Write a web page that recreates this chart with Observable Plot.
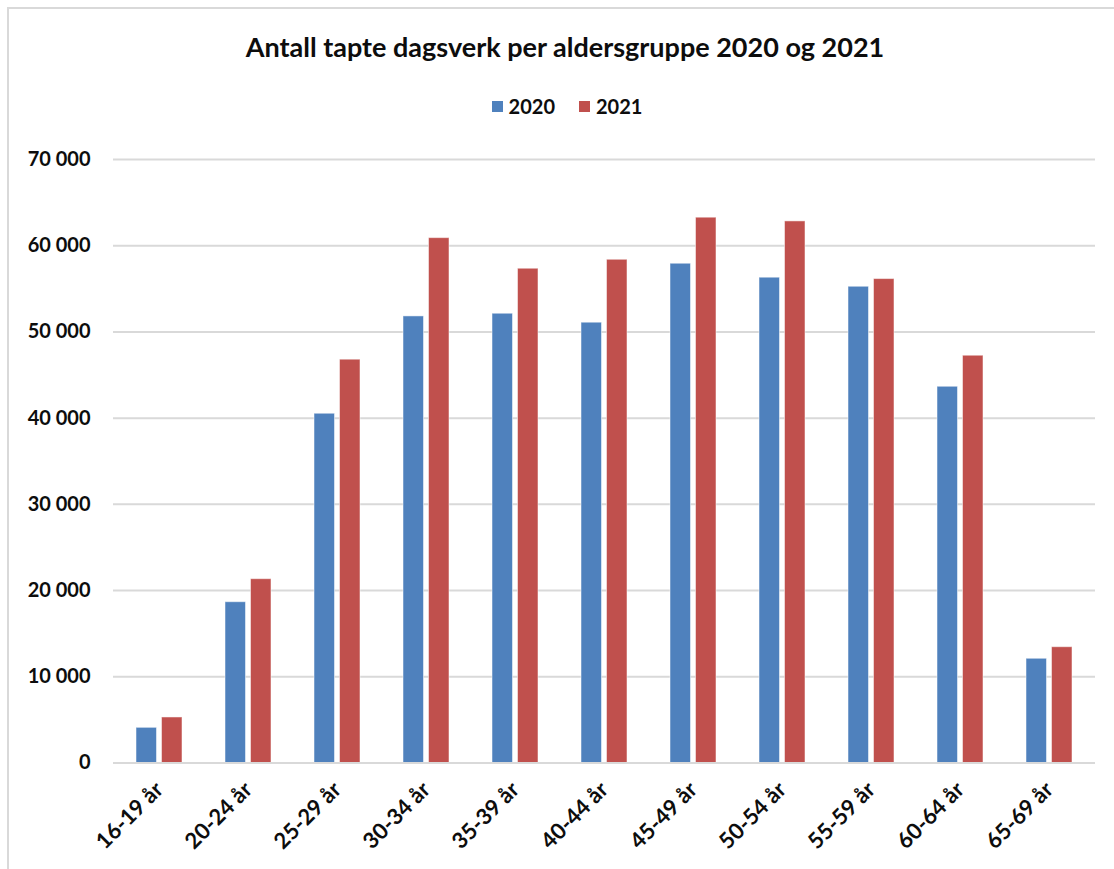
<!DOCTYPE html>
<html>
<head>
<meta charset="utf-8">
<script src="https://cdn.jsdelivr.net/npm/d3@7"></script>
<script src="https://cdn.jsdelivr.net/npm/@observablehq/plot@0.6"></script>
<style>
  html, body { margin: 0; padding: 0; background: #fff; }
  body { width: 1114px; height: 869px; overflow: hidden; position: relative; font-family: Lato, "Open Sans", sans-serif; }
  #border { position: absolute; left: 7px; top: 7px; width: 1200px; height: 1000px; border-left: 2px solid #d9d9d9; border-top: 2px solid #d9d9d9; }
  #title { position: absolute; left: 8px; width: 1114px; top: 30px; text-align: center; font-weight: bold; font-size: 27px; color: #0d0d0d; }
  #legend { position: absolute; left: 10px; width: 1114px; top: 94px; display: flex; justify-content: center; gap: 24px; font-weight: bold; font-size: 20px; color: #0d0d0d; }
  .item { display: flex; align-items: center; gap: 6px; }
  .sw { width: 11px; height: 11px; display: inline-block; }
  #chart { position: absolute; left: 0; top: 120px; }
</style>
</head>
<body>
<div id="border"></div>
<div id="title">Antall tapte dagsverk per aldersgruppe 2020 og 2021</div>
<div id="legend"></div>
<div id="chart"></div>
<script>
const ages = ["16-19 år", "20-24 år", "25-29 år", "30-34 år", "35-39 år", "40-44 år", "45-49 år", "50-54 år", "55-59 år", "60-64 år", "65-69 år"];
const years = ["2020", "2021"];
const values2020 = [4080, 18650, 40510, 51800, 52110, 51070, 57910, 56290, 55240, 43640, 12090];
const values2021 = [5280, 21320, 46780, 60880, 57330, 58370, 63250, 62820, 56130, 47240, 13430];
const colors = ["#4f81bd", "#c0504d"];
const yTicks = [0, 10000, 20000, 30000, 40000, 50000, 60000, 70000];

const legend = document.getElementById("legend");
years.forEach((y, i) => {
  const it = document.createElement("span");
  it.className = "item";
  it.innerHTML = `<span class="sw" style="background:${colors[i]}"></span><span>${y}</span>`;
  legend.appendChild(it);
});

const d2020 = ages.map((a, i) => ({age: a, year: years[0], value: values2020[i]}));
const d2021 = ages.map((a, i) => ({age: a, year: years[1], value: values2021[i]}));
const fmt = d => d3.format(",")(d).replace(/,/g, " ");

const chart = Plot.plot({
  width: 1114,
  height: 749,
  marginTop: 39,
  marginBottom: 106.5,
  marginLeft: 113,
  marginRight: 19,
  style: {fontFamily: "Lato, 'Open Sans', sans-serif", fontSize: "20px", fontWeight: "bold", color: "#0d0d0d", background: "transparent"},
  x: {domain: ages, paddingInner: 0.485, paddingOuter: 0.2425, label: null},
  y: {domain: [0, 70000], label: null},
  marks: [
    Plot.gridY(yTicks, {stroke: "#d9d9d9", strokeOpacity: 1, strokeWidth: 2}),
    Plot.barY(d2020, {x: "age", y: "value", fill: colors[0], insetRight: 25.5, stroke: "#ffffff", strokeOpacity: 0.5, strokeWidth: 1}),
    Plot.barY(d2021, {x: "age", y: "value", fill: colors[1], insetLeft: 25.5, stroke: "#ffffff", strokeOpacity: 0.5, strokeWidth: 1}),
    Plot.ruleY([0], {stroke: "#d9d9d9", strokeWidth: 2}),
    Plot.axisY(yTicks, {tickSize: 0, tickPadding: 23, tickFormat: fmt, label: null}),
    Plot.axisX({tickRotate: -45, tickSize: 0, tickPadding: 23, fontSize: 22, label: null})
  ]
});
document.getElementById("chart").appendChild(chart);
</script>
</body>
</html>
